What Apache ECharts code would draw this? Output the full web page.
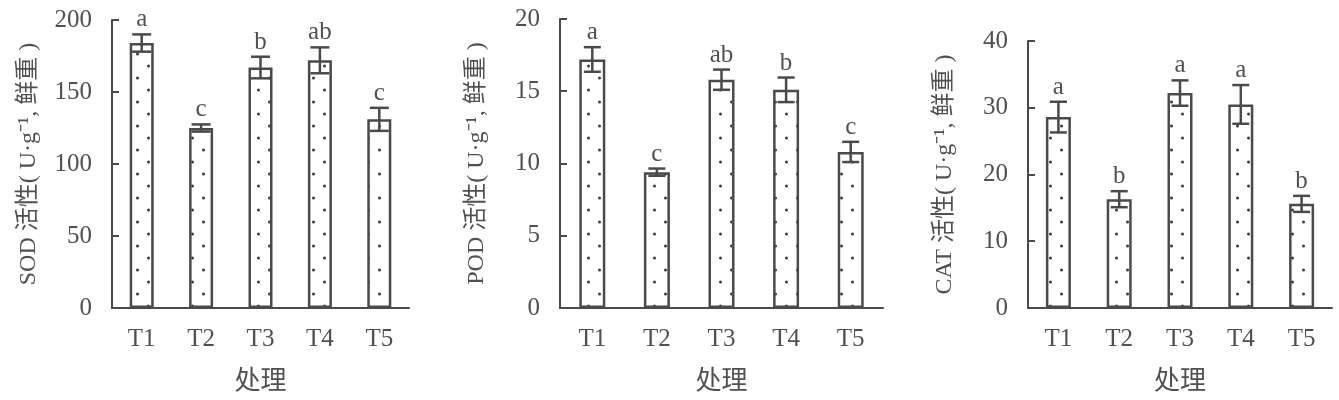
<!DOCTYPE html>
<html>
<head>
<meta charset="utf-8">
<script src="https://cdn.jsdelivr.net/npm/echarts@6/dist/echarts.min.js"></script>
<style>
html,body{margin:0;padding:0;background:#fff;}
#chart{width:1339px;height:400px;}
</style>
</head>
<body>
<div id="chart"></div>
<script>
// ---- data ----
const categories = ['T1', 'T2', 'T3', 'T4', 'T5'];

const sodValues = [184, 125, 167, 172, 131];
const sodErrors = [6, 2.5, 7.5, 9, 8];
const sodLetters = ['a', 'c', 'b', 'ab', 'c'];

const podValues = [17.2, 9.4, 15.8, 15.1, 10.8];
const podErrors = [0.85, 0.25, 0.7, 0.85, 0.7];
const podLetters = ['a', 'c', 'ab', 'b', 'c'];

const catValues = [28.6, 16.3, 32.2, 30.5, 15.6];
const catErrors = [2.3, 1.2, 1.9, 2.9, 1.2];
const catLetters = ['a', 'b', 'a', 'a', 'b'];

const yMax = [200, 20, 40];
const yInterval = [50, 5, 10];
const yNames = ['SOD 活性( U·g⁻¹, 鲜重 )', 'POD 活性( U·g⁻¹, 鲜重 )', 'CAT 活性( U·g⁻¹, 鲜重 )'];
const xName = '处理';

// ---- styling ----
const FONT = "'Liberation Serif', 'Noto Sans CJK SC', serif";
const TEXT = '#505050';
const LINE = '#4a4a4a';

const pat = document.createElement('canvas');
pat.width = 22; pat.height = 24;
(function () {
  const c = pat.getContext('2d');
  c.fillStyle = '#fff'; c.fillRect(0, 0, 22, 24);
  c.fillStyle = '#3a3a3a';
  c.beginPath(); c.arc(5.5, 6, 1.5, 0, Math.PI * 2); c.fill();
  c.beginPath(); c.arc(16.5, 18, 1.5, 0, Math.PI * 2); c.fill();
})();

const grids = [
  { left: 112, top: 20, width: 297, height: 292 },
  { left: 560, top: 19, width: 323, height: 293 },
  { left: 1028, top: 41, width: 304, height: 271 }
];
const barWidths = [24, 26, 25];
const capWidths = [19, 17, 17];

const panels = [
  { v: sodValues, e: sodErrors, l: sodLetters },
  { v: podValues, e: podErrors, l: podLetters },
  { v: catValues, e: catErrors, l: catLetters }
];

const xAxes = [], yAxes = [], series = [];
panels.forEach((p, k) => {
  xAxes.push({
    type: 'category', gridIndex: k, data: categories,
    name: xName, nameLocation: 'middle', nameGap: 61,
    nameTextStyle: { fontFamily: FONT, fontSize: 26, color: TEXT },
    axisLine: { lineStyle: { color: LINE, width: 2 } },
    axisTick: { inside: true, length: 7, lineStyle: { color: LINE, width: 2 } },
    axisLabel: { fontFamily: FONT, fontSize: 25, color: TEXT, margin: 19 },
    splitLine: { show: false }
  });
  yAxes.push({
    type: 'value', gridIndex: k, min: 0, max: yMax[k], interval: yInterval[k],
    name: yNames[k], nameLocation: 'middle', nameGap: 71,
    nameTextStyle: { fontFamily: FONT, fontSize: 24, color: TEXT },
    axisLine: { show: true, lineStyle: { color: LINE, width: 2 } },
    axisTick: { show: true, inside: true, length: 7, lineStyle: { color: LINE, width: 2 } },
    axisLabel: { fontFamily: FONT, fontSize: 25, color: TEXT, margin: 20 },
    splitLine: { show: false }
  });
  series.push({
    type: 'bar', xAxisIndex: k, yAxisIndex: k,
    data: p.v, barWidth: barWidths[k],
    itemStyle: { color: { image: pat, repeat: 'repeat' }, borderColor: LINE, borderWidth: 2.5 },
    silent: true, animation: false
  });
  series.push({
    type: 'custom', xAxisIndex: k, yAxisIndex: k, z: 5,
    data: categories.map((c, i) => [i, p.v[i], p.e[i]]),
    animation: false, silent: true,
    renderItem: function (params, api) {
      const x = api.value(0), v = api.value(1), e = api.value(2);
      const t = api.coord([x, v + e]);
      const b = api.coord([x, v - e]);
      const hw = capWidths[k] / 2;
      const st = { stroke: LINE, lineWidth: 2.5 };
      return {
        type: 'group', children: [
          { type: 'line', shape: { x1: t[0], y1: t[1], x2: b[0], y2: b[1] }, style: st },
          { type: 'line', shape: { x1: t[0] - hw, y1: t[1], x2: t[0] + hw, y2: t[1] }, style: st },
          { type: 'line', shape: { x1: b[0] - hw, y1: b[1], x2: b[0] + hw, y2: b[1] }, style: st },
          { type: 'text', style: { text: p.l[params.dataIndex], x: t[0], y: t[1] - 2,
              align: 'center', verticalAlign: 'bottom', fontFamily: FONT, fontSize: 25, fill: TEXT } }
        ]
      };
    }
  });
});

const chart = echarts.init(document.getElementById('chart'), null, { renderer: 'canvas' });
chart.setOption({
  backgroundColor: '#fff',
  animation: false,
  grid: grids,
  xAxis: xAxes,
  yAxis: yAxes,
  series: series
});
</script>
</body>
</html>
